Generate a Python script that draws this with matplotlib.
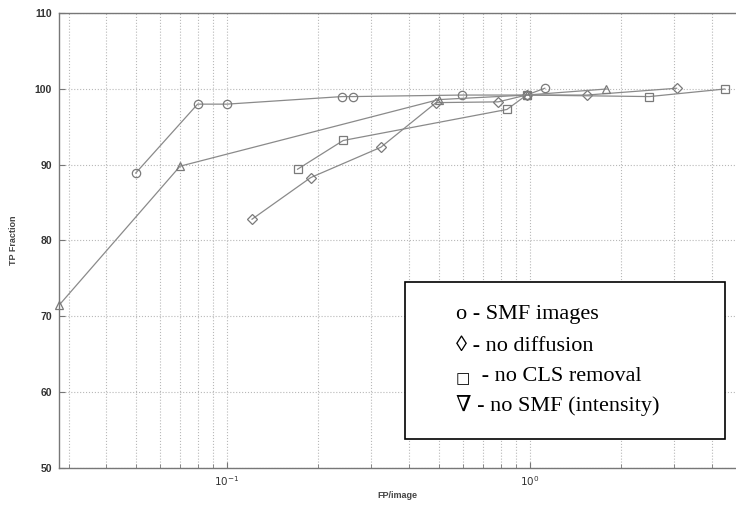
import numpy as np
import matplotlib
matplotlib.use('Agg')
import matplotlib.pyplot as plt
from matplotlib.patches import Rectangle
from matplotlib.ticker import LogLocator, NullFormatter

# curves (FP/image, TP fraction)
smf_x = [0.05, 0.08, 0.1, 0.24, 0.26, 0.595, 0.975, 1.12]
smf_y = [88.9, 98.0, 98.0, 99.0, 99.0, 99.2, 99.2, 100.1]

nodiff_x = [0.121, 0.189, 0.322, 0.49, 0.786, 0.975, 1.54, 3.05]
nodiff_y = [82.8, 88.3, 92.3, 98.2, 98.3, 99.2, 99.2, 100.1]

nocls_x = [0.171, 0.242, 0.84, 0.975, 2.48, 4.4]
nocls_y = [89.4, 93.2, 97.3, 99.2, 99.0, 100.0]

inten_x = [0.028, 0.07, 0.5, 0.975, 1.79]
inten_y = [71.5, 89.8, 98.6, 99.2, 100.0]

legend_lines = ['o - SMF images', '\u25ca - no diffusion', ' - no CLS removal',
                '\u2207 - no SMF (intensity)']

fig = plt.figure(figsize=(7.36, 5.07), dpi=100)
ax = fig.add_axes([59 / 736, 39.5 / 507, 677 / 736, 454.2 / 507])

lc = '#8a8a8a'
for xs, ys, m in [(smf_x, smf_y, 'o'), (nodiff_x, nodiff_y, 'D'),
                  (nocls_x, nocls_y, 's'), (inten_x, inten_y, '^')]:
    ax.plot(xs, ys, '-', color=lc, lw=0.9, marker=m, markersize=6 if m != 'D' else 5,
            mfc='none', mec='#7a7a7a', mew=0.9, clip_on=False, zorder=3)

ax.set_xscale('log')
ax.set_xlim(0.0279, 4.79)
ax.set_ylim(50, 110)
ax.set_yticks([50, 60, 70, 80, 90, 100, 110])
ax.xaxis.set_major_locator(LogLocator(base=10, numticks=10))
ax.xaxis.set_minor_locator(LogLocator(base=10, subs=np.arange(2, 10), numticks=20))
ax.xaxis.set_minor_formatter(NullFormatter())

ax.grid(True, which='major', axis='y', ls=':', color='#b8b8b8', lw=0.8)
ax.grid(True, which='both', axis='x', ls=':', color='#b8b8b8', lw=0.8)

for s in ['left', 'bottom', 'top']:
    ax.spines[s].set_color('#777777')
    ax.spines[s].set_linewidth(1.0)
ax.spines['right'].set_visible(False)

ax.tick_params(axis='both', which='both', direction='in', colors='#777777',
               labelcolor='#333333')
ax.tick_params(axis='both', which='major', length=4)
ax.tick_params(axis='x', which='minor', length=3)
ax.tick_params(axis='y', labelsize=7.5, pad=5)
ax.tick_params(axis='x', labelsize=7.5, pad=5)
for t in ax.get_yticklabels():
    t.set_fontweight('bold')
    t.set_family('Liberation Sans')

ax.set_xlabel('FP/image', fontsize=6.5, fontweight='bold', color='#444444',
              family='Liberation Sans', labelpad=2)
ax.set_ylabel('TP Fraction', fontsize=6.5, fontweight='bold', color='#444444',
              family='Liberation Sans', labelpad=12)

# text box standing in for the legend
fig.patches.append(Rectangle((405 / 736, 68 / 507), 320 / 736, 157 / 507,
                             transform=fig.transFigure, facecolor='white',
                             edgecolor='black', lw=1.2, zorder=5))
base_y = [319, 351, 381, 411]
for i, (txt, yb) in enumerate(zip(legend_lines, base_y)):
    x0 = 456 / 736 if i != 2 else 476 / 736
    fig.text(x0, (507 - yb) / 507, txt, fontsize=16,
             family=['Liberation Serif', 'DejaVu Serif'],
             va='baseline', ha='left', zorder=6)
fig.text(456 / 736, (507 - 383) / 507, '\u25a1', fontsize=11,
         family=['DejaVu Sans'], va='baseline', ha='left', zorder=6)

fig.savefig('out.png', dpi=100)
